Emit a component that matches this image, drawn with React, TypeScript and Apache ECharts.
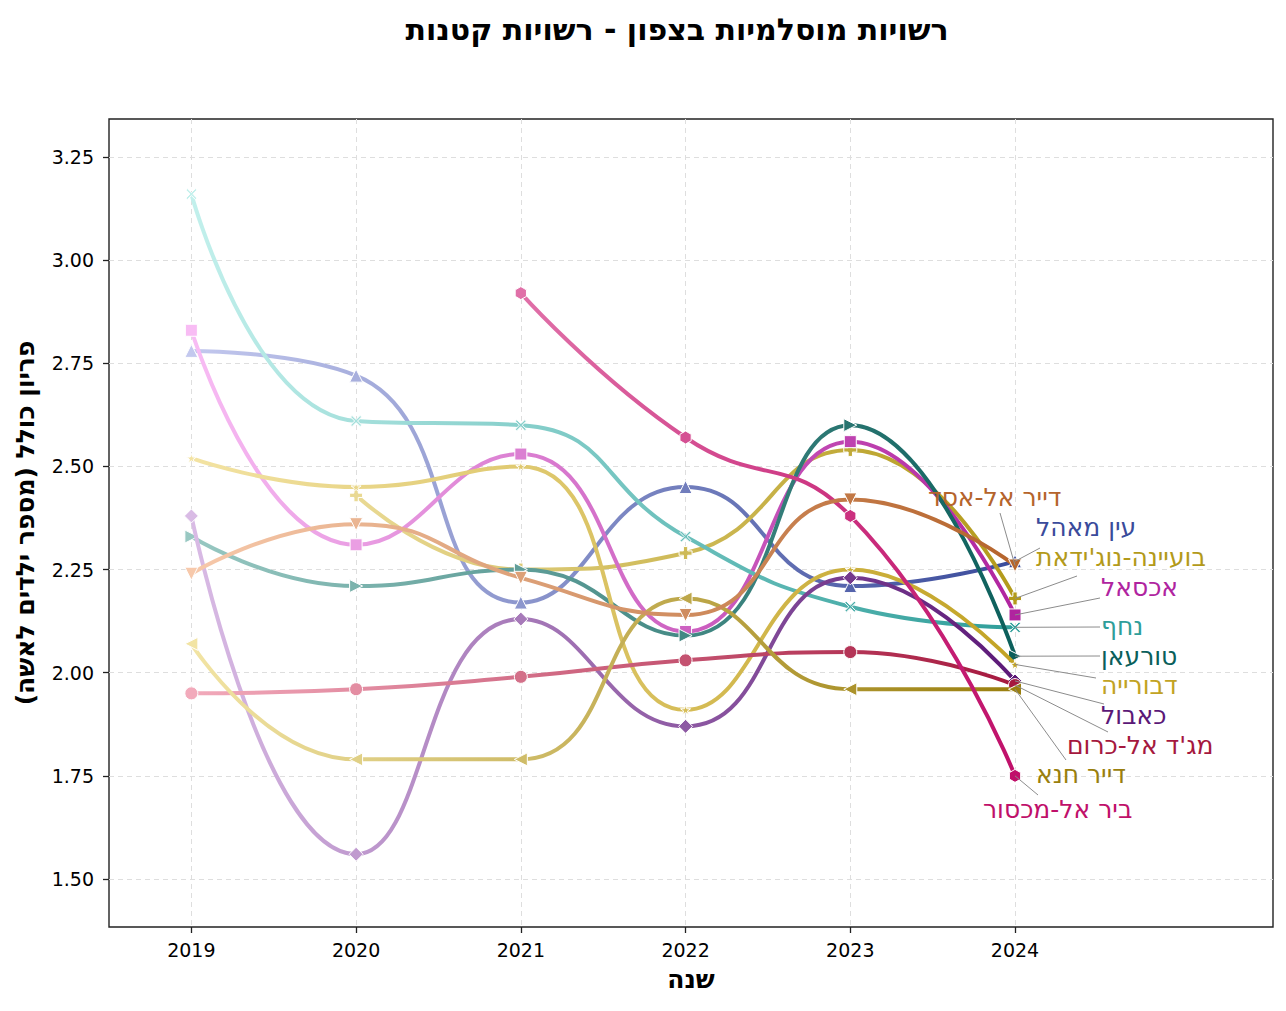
import React, { useEffect, useRef } from 'react';
import * as echarts from 'echarts';

// ---------------- data ----------------
const YEARS = [2019, 2020, 2021, 2022, 2023, 2024];
const Y_TICKS = [1.5, 1.75, 2.0, 2.25, 2.5, 2.75, 3.0, 3.25];

const NAMES = [
  'דייר אל-אסד',
  'עין מאהל',
  "בועיינה-נוג'ידאת",
  'אכסאל',
  'נחף',
  'טורעאן',
  'דבורייה',
  'כאבול',
  "מג'ד אל-כרום",
  'דייר חנא',
  'ביר אל-מכסור',
];

const deirAlAsad = [2.24, 2.36, 2.23, 2.14, 2.42, 2.26];
const einMahel = [2.78, 2.72, 2.17, 2.45, 2.21, 2.27];
const bueineNujeidat = [null, 2.43, 2.25, 2.29, 2.54, 2.18];
const iksal = [2.83, 2.31, 2.53, 2.1, 2.56, 2.14];
const nahf = [3.16, 2.61, 2.6, 2.33, 2.16, 2.11];
const turan = [2.33, 2.21, 2.25, 2.09, 2.6, 2.04];
const daburiyya = [2.52, 2.45, 2.5, 1.91, 2.25, 2.02];
const kabul = [2.38, 1.56, 2.13, 1.87, 2.23, 1.98];
const majdAlKrum = [1.95, 1.96, 1.99, 2.03, 2.05, 1.97];
const deirHanna = [2.07, 1.79, 1.79, 2.18, 1.96, 1.96];
const birAlMaksur = [null, null, 2.92, 2.57, 2.38, 1.75];

const VALUES: (number | null)[][] = [
  deirAlAsad, einMahel, bueineNujeidat, iksal, nahf, turan,
  daburiyya, kabul, majdAlKrum, deirHanna, birAlMaksur,
];

// ---------------- styles ----------------
const LIGHT = ['#f7c9ab', '#c3c8ee', '#e9d993', '#f8bcf4', '#c2f0ec', '#98c8c2', '#f3e3a3', '#d9bbe5', '#f2aabb', '#f2e4a4', '#e070a8'];
const DARK = ['#b5642c', '#3a4b9b', '#b39a1a', '#b0249f', '#2f9e9a', '#0b5f5b', '#c2a324', '#5b1877', '#a5183e', '#9a7f0e', '#c0106a'];

const PLUS = 'path://M4,0H8V4H12V8H8V12H4V8H0V4H4Z';
const XMARK = 'path://M1.6,0L6,4.4L10.4,0L12,1.6L7.6,6L12,10.4L10.4,12L6,7.6L1.6,12L0,10.4L4.4,6L0,1.6Z';
const STAR = 'path://M50,0L61,35H98L68,57L79,91L50,70L21,91L32,57L2,35H39Z';
const HEX = 'path://M50,0L93.3,25V75L50,100L6.7,75V25Z';

const SYMBOL = ['triangle', 'triangle', PLUS, 'rect', XMARK, 'triangle', STAR, 'diamond', 'circle', 'triangle', HEX];
const ROTATE = [180, 0, 0, 0, 0, -90, 0, 0, 0, 90, 0];
const SIZE = [13, 13, 13, 12, 11, 13, 10, 14, 13, 13, 13];
const Z = [20, 3, 4, 5, 6, 7, 8, 9, 10, 11, 12];

// label layout (pixels): text left x, text centre y, leader end x, leader end y
const LABEL_POS: number[][] = [
  [928, 497, 1000, 513],
  [1036, 527, 1040, 548],
  [1036, 557, 1077, 576],
  [1101, 587, 1100, 598],
  [1101, 626, 1100, 627],
  [1101, 656, 1100, 656],
  [1101, 685, 1096, 678],
  [1101, 715, 1104, 704],
  [1067, 745, 1108, 732],
  [1036, 774, 1066, 760],
  [983, 809, 1038, 795],
];

const FONT = '"DejaVu Sans", "Noto Sans", sans-serif';

function hexToRgb(h: string) {
  const n = parseInt(h.slice(1), 16);
  return [(n >> 16) & 255, (n >> 8) & 255, n & 255];
}
function mix(a: string, b: string, t: number) {
  const A = hexToRgb(a);
  const B = hexToRgb(b);
  const c = A.map((v, i) => Math.round(v + (B[i] - v) * t));
  return `rgb(${c[0]},${c[1]},${c[2]})`;
}

function buildSeries() {
  return VALUES.map((vals, s) => {
    const idx = vals.map((v, i) => (v == null ? -1 : i)).filter((i) => i >= 0);
    const first = idx[0];
    const last = idx[idx.length - 1];
    const data = idx.map((i) => {
      const t = last === first ? 1 : (i - first) / (last - first);
      return {
        value: [YEARS[i], vals[i] as number],
        itemStyle: { color: mix(LIGHT[s], DARK[s], t) },
      };
    });
    return {
      type: 'line',
      name: NAMES[s],
      data,
      smooth: 0.5,
      symbol: SYMBOL[s],
      symbolRotate: ROTATE[s],
      symbolSize: SIZE[s],
      symbolKeepAspect: true,
      showAllSymbol: true,
      lineStyle: {
        width: 4,
        color: new echarts.graphic.LinearGradient(0, 0, 1, 0, [
          { offset: 0, color: LIGHT[s] },
          { offset: 1, color: DARK[s] },
        ]),
      },
      itemStyle: { color: DARK[s], borderColor: '#ffffff', borderWidth: 1 },
      emphasis: { disabled: true },
      z: Z[s],
    };
  });
}

export default function App() {
  const ref = useRef<HTMLDivElement>(null);

  useEffect(() => {
    const chart = echarts.init(ref.current!, null, { renderer: 'svg' });
    const gridStyle = { color: '#dedede', width: 1, type: [5, 4] as number[] };
    chart.setOption({
      animation: false,
      backgroundColor: '#ffffff',
      textStyle: { fontFamily: FONT },
      title: {
        text: 'רשויות מוסלמיות בצפון - רשויות קטנות',
        left: 672,
        top: 9,
        textAlign: 'center',
        textStyle: { fontSize: 30, fontWeight: 'bold', color: '#000', fontFamily: FONT },
      },
      grid: {
        left: 109,
        top: 119,
        width: 1164,
        height: 808,
        show: true,
        borderColor: '#222',
        borderWidth: 1.4,
        backgroundColor: 'transparent',
        containLabel: false,
      },
      xAxis: {
        type: 'value',
        min: 2018.5,
        max: 2025.566,
        axisLine: { show: false },
        axisTick: { show: true, customValues: YEARS, length: 6, lineStyle: { color: '#222', width: 1.3 } },
        axisLabel: {
          customValues: YEARS,
          fontSize: 19,
          color: '#000',
          margin: 13,
          fontFamily: FONT,
          formatter: (v: number) => String(v),
        },
        splitLine: { show: true, lineStyle: gridStyle },
        name: 'שנה',
        nameLocation: 'middle',
        nameGap: 40,
        nameTextStyle: { fontSize: 25, fontWeight: 'bold', color: '#000', fontFamily: FONT },
      },
      yAxis: {
        type: 'value',
        min: 1.3837,
        max: 3.342,
        axisLine: { show: false },
        axisTick: { show: true, customValues: Y_TICKS, length: 6, lineStyle: { color: '#222', width: 1.3 } },
        axisLabel: {
          customValues: Y_TICKS,
          fontSize: 19,
          color: '#000',
          margin: 15,
          fontFamily: FONT,
          formatter: (v: number) => v.toFixed(2),
        },
        splitLine: { show: true, lineStyle: gridStyle },
        name: 'פריון כולל (מספר ילדים לאשה)',
        nameLocation: 'middle',
        nameRotate: 90,
        nameGap: 71,
        nameTextStyle: { fontSize: 25, fontWeight: 'bold', color: '#000', fontFamily: FONT },
      },
      series: buildSeries(),
    });

    const graphics: any[] = [];
    VALUES.forEach((vals, s) => {
      const lastVal = vals[vals.length - 1] as number;
      const p = chart.convertToPixel({ gridIndex: 0 }, [YEARS[YEARS.length - 1], lastVal]) as number[];
      const [tx, ty, lx, ly] = LABEL_POS[s];
      graphics.push({
        type: 'line',
        shape: { x1: p[0], y1: p[1], x2: lx, y2: ly },
        style: { stroke: '#8c8c8c', lineWidth: 1 },
        z: 50,
        silent: true,
      });
      graphics.push({
        type: 'text',
        x: tx,
        y: ty,
        style: {
          text: NAMES[s],
          fill: DARK[s],
          fontSize: 25,
          fontFamily: FONT,
          align: 'left',
          verticalAlign: 'middle',
          textAlign: 'left',
          textVerticalAlign: 'middle',
        },
        z: 60,
        silent: true,
      });
    });
    chart.setOption({ graphic: graphics });

    return () => chart.dispose();
  }, []);

  return (
    <div
      ref={ref}
      style={{ position: 'absolute', left: 0, top: 0, width: 1286, height: 1011 }}
    />
  );
}
